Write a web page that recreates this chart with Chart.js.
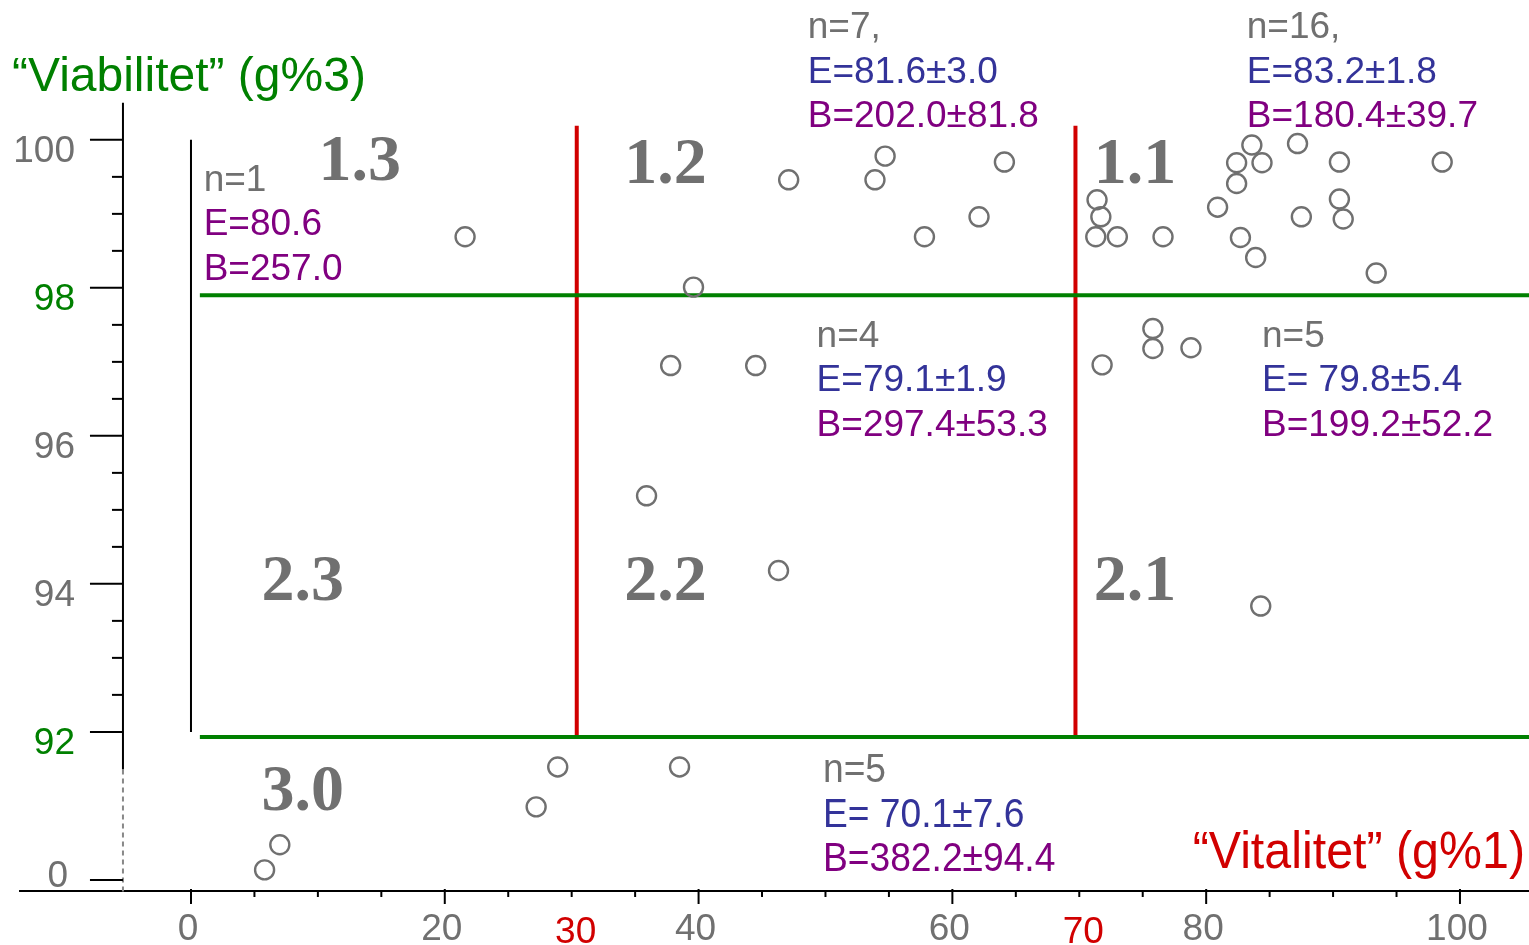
<!DOCTYPE html>
<html>
<head>
<meta charset="utf-8">
<title>Vitalitet / Viabilitet</title>
<script src="https://cdn.jsdelivr.net/npm/chart.js@4.4.1/dist/chart.umd.min.js"></script>
<style>
    html, body { margin: 0; padding: 0; background: #fff; }
    #plot { display: block; }
</style>
</head>
<body>
<canvas id="plot" width="1529" height="945"></canvas>
<script>
/* globals Chart */

// samples: vitalitet (g%1) on x, viabilitet (g%3) on y
const vitalitet = [
    21.6,
    47.1, 54.7, 53.9, 64.1, 62.1, 57.8, 39.6,
    71.4, 71.7, 71.3, 73.0, 76.6, 80.9, 82.4, 82.4, 83.6, 84.4,
    82.7, 83.9, 87.2, 87.5, 90.5, 90.5, 90.8, 93.4, 98.6,
    37.8, 44.5, 35.9, 46.3,
    71.8, 75.8, 75.8, 78.8, 84.3,
    5.8, 7.0, 27.2, 28.9, 38.5
];
const viabilitet = [
    98.69,
    99.46, 99.78, 99.46, 99.70, 98.96, 98.69, 98.01,
    99.19, 98.96, 98.69, 98.69, 98.69, 99.09, 99.69, 99.41, 99.93, 99.69,
    98.68, 98.41, 99.95, 98.96, 99.70, 99.20, 98.93, 98.20, 99.70,
    96.95, 96.95, 95.19, 94.18,
    96.96, 97.45, 97.18, 97.19, 93.70,
    6.2, 21.8, 45.4, 70.2, 70.2
];

// class borders
const vitalCuts = [30.4, 69.7];
const viabCuts = [97.9, 91.93];

// axis ticks
const xTickValues = [0, 20, 40, 60, 80, 100];
const xCutLabels = [30, 70];
const yTickValues = [100, 98, 96, 94, 92, 90];
const yTickLabels = ["100", "98", "96", "94", "92", "0"];

// classes and their summaries
const classNames = ["1.3", "1.2", "1.1", "2.3", "2.2", "2.1", "3.0"];
const classStats = [
    ["n=1", "E=80.6", "B=257.0"],
    ["n=7,", "E=81.6\u00b13.0", "B=202.0\u00b181.8"],
    ["n=16,", "E=83.2\u00b11.8", "B=180.4\u00b139.7"],
    null,
    ["n=4", "E=79.1\u00b11.9", "B=297.4\u00b153.3"],
    ["n=5", "E= 79.8\u00b15.4", "B=199.2\u00b152.2"],
    ["n=5", "E= 70.1\u00b17.6", "B=382.2\u00b194.4"]
];

const xTitle = "\u201cVitalitet\u201d (g%1)";
const yTitle = "\u201cViabilitet\u201d (g%3)";

// below 92 the y axis is broken: 0..92 squeezed into the 90..92 band
function axisY(v) {
    return v >= 92 ? v : 90 + 2 * v / 92;
}

const GREY = "#707070";
const GREEN = "#008000";
const RED = "#d10000";
const BLUE = "#333399";
const PURPLE = "#800080";
const SANS = '"Liberation Sans", Arial, sans-serif';
const SERIF = '"Liberation Serif", "Times New Roman", serif';

// where the class names and summaries sit, in axis units
const namePos = [[13.3, 99.69], [37.4, 99.65], [74.4, 99.65], [8.8, 94.01], [37.4, 94.01], [74.4, 94.01], [8.8, 91.18]];
const statPos = [[1.0, 99.45], [48.6, 101.51], [83.2, 101.51], null, [49.3, 97.34], [84.4, 97.34], [49.8, 91.47]];

function text(ctx, str, x, y, font, color, align, squeeze) {
    ctx.save();
    ctx.font = font;
    ctx.fillStyle = color;
    ctx.textAlign = align || "left";
    ctx.textBaseline = "middle";
    ctx.translate(x, y);
    ctx.scale(squeeze || 1, 1);
    ctx.fillText(str, 0, 0);
    ctx.restore();
}

function seg(ctx, x1, y1, x2, y2) {
    ctx.beginPath();
    ctx.moveTo(x1, y1);
    ctx.lineTo(x2, y2);
    ctx.stroke();
}

const frame = {
    id: "frame",
    beforeDatasetsDraw(chart) {
        const ctx = chart.ctx;
        const px = v => chart.scales.x.getPixelForValue(v);
        const py = v => chart.scales.y.getPixelForValue(v);
        const axisX = -5.36;
        const base = 89.85;

        ctx.save();
        ctx.strokeStyle = "#000";
        ctx.lineWidth = 2;

        // x axis with ticks every 5, longer every 20
        seg(ctx, px(-13.55), py(base), px(105.44), py(base));
        for (let v = 0; v <= 100; v += 5) {
            const major = v % 20 === 0;
            seg(ctx, px(v), py(base) - (major ? 2 : 0), px(v), py(base) + (major ? 13 : 6));
        }

        // y axis: solid above the break, dashed below it
        seg(ctx, px(axisX), py(100.5), px(axisX), py(91.49));
        ctx.save();
        ctx.strokeStyle = "#888";
        ctx.setLineDash([5, 4]);
        seg(ctx, px(axisX), py(91.49), px(axisX), py(base) + 3);
        ctx.restore();
        for (let v = 92.5; v < 100; v += 0.5) {
            if (v % 2 !== 0) seg(ctx, px(axisX) - 11, py(v), px(axisX), py(v));
        }
        yTickValues.forEach(v => seg(ctx, px(axisX) - 33, py(v), px(axisX), py(v)));
        ctx.restore();

        // tick labels
        yTickValues.forEach((v, i) => {
            const col = v === 98 || v === 92 ? GREEN : GREY;
            const dy = v === 90 ? -3 : 12;
            const rx = v === 90 ? px(axisX) - 55 : px(axisX) - 48;
            text(ctx, yTickLabels[i], rx, py(v) + dy, "37px " + SANS, col, "right");
        });
        xTickValues.forEach(v => {
            text(ctx, String(v), px(v) - 3, py(base) + 39, "37px " + SANS, GREY, "center");
        });
        xCutLabels.forEach(v => {
            text(ctx, String(v), px(v) + 4, py(base) + 42, "37px " + SANS, RED, "center");
        });

        // axis titles
        text(ctx, yTitle, 12, 78, "48px " + SANS, GREEN, "left");
        text(ctx, xTitle, 1525, 854, "52px " + SANS, RED, "right", 0.93);
    },
    afterDatasetsDraw(chart) {
        const ctx = chart.ctx;
        const px = v => chart.scales.x.getPixelForValue(v);
        const py = v => chart.scales.y.getPixelForValue(v);

        classNames.forEach((name, i) => {
            text(ctx, name, px(namePos[i][0]), py(namePos[i][1]), "bold 66px " + SERIF, GREY, "center");
        });

        classStats.forEach((lines, i) => {
            if (!lines) return;
            const low = i === 6;
            const x = px(statPos[i][0]);
            const y = py(statPos[i][1]);
            lines.forEach((str, k) => {
                let col = GREY;
                if (k === 1) col = lines[1].includes("\u00b1") ? BLUE : PURPLE;
                if (k === 2) col = PURPLE;
                text(ctx, str, x, y + k * 44.5, (low ? "40px " : "37px ") + SANS, col, "left", low ? 0.93 : 1);
            });
        });
    }
};

function main() {
    const points = vitalitet.map((v, i) => ({ x: v, y: axisY(viabilitet[i]) }));

    const lineSet = (data, color, width) => ({
        type: "line",
        data: data,
        borderColor: color,
        borderWidth: width,
        pointRadius: 0,
        fill: false,
        order: 2
    });

    const datasets = [
        {
            type: "scatter",
            data: points,
            pointStyle: "circle",
            pointRadius: 9.5,
            borderWidth: 2.4,
            borderColor: GREY,
            backgroundColor: "rgba(0,0,0,0)",
            order: 0
        },
        // the 0 line inside the plot
        lineSet([{ x: 0, y: 100 }, { x: 0, y: 92 }], "#000", 2)
    ];
    viabCuts.forEach(v => datasets.push(lineSet([{ x: 0.7, y: v }, { x: 105.44, y: v }], GREEN, 4)));
    vitalCuts.forEach(v => datasets.push(lineSet([{ x: v, y: 100.19 }, { x: v, y: viabCuts[1] }], RED, 4)));

    new Chart(document.getElementById("plot"), {
        type: "scatter",
        data: { datasets: datasets },
        options: {
            responsive: false,
            animation: false,
            layout: { padding: 0, autoPadding: false },
            plugins: { legend: { display: false }, tooltip: { enabled: false } },
            scales: {
                x: { type: "linear", min: -15.05, max: 105.44, display: false },
                y: { type: "linear", min: 89.12, max: 101.89, display: false }
            }
        },
        plugins: [frame]
    });
}

document.addEventListener("DOMContentLoaded", main);
</script>
</body>
</html>
